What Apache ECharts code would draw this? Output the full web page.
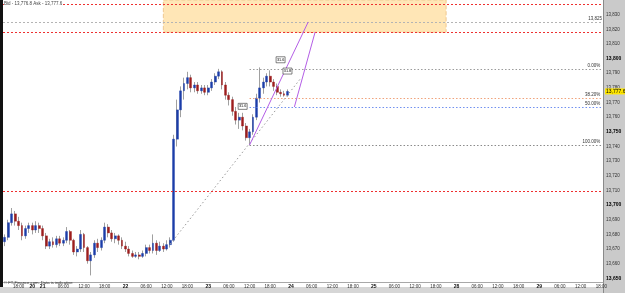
<!DOCTYPE html>
<html><head><meta charset="utf-8">
<script src="https://cdn.jsdelivr.net/npm/echarts@6/dist/echarts.min.js"></script>
<style>html,body{margin:0;padding:0;background:#fff}#c{width:625px;height:293px}</style>
</head><body><div id="c"></div>
<script>
// trading sessions: [day, first hour, last hour] (hourly slots)
const sessions = [[18,14,21],[20,21,23],[21,0,23],[22,0,23],[23,0,23],[24,0,23],[25,0,23],[28,0,23],[29,0,18]];

// hourly OHLC (candles for the first 83 slots)
const opens  = [13675,13678,13688,13694,13689,13686,13679,13684,13686,13683,13686,13684,13679,13672,13675,13673,13677,13674,13676,13682,13676,13668,13670,13680,13671,13662,13666,13674,13671,13676,13685,13681,13677,13679,13676,13672,13670,13667,13665,13666,13665,13667,13671,13669,13674,13669,13672,13670,13673,13676,13745,13765,13778,13783,13787,13780,13782,13778,13780,13777,13780,13784,13788,13791,13782,13775,13772,13764,13758,13760,13754,13746,13750,13760,13773,13780,13784,13788,13784,13781,13777,13776,13775];
const closes = [13678,13688,13694,13689,13686,13679,13684,13686,13683,13686,13684,13679,13672,13675,13673,13677,13674,13676,13682,13676,13668,13670,13680,13671,13662,13666,13674,13671,13676,13685,13681,13677,13679,13676,13672,13670,13667,13665,13666,13665,13667,13671,13669,13674,13669,13672,13670,13673,13676,13745,13765,13778,13783,13787,13780,13782,13778,13780,13777,13780,13784,13788,13791,13782,13775,13772,13764,13758,13760,13754,13746,13750,13760,13773,13780,13784,13788,13784,13781,13777,13776,13775,13777.6];
const lows   = [13672,13676,13686,13686,13683,13676,13677,13681,13680,13681,13681,13676,13670,13670,13671,13671,13672,13672,13674,13673,13666,13665,13668,13668,13660,13652,13664,13668,13669,13674,13678,13675,13674,13673,13670,13668,13665,13664,13664,13663,13664,13665,13667,13667,13666,13668,13668,13669,13671,13675,13740,13760,13772,13779,13777,13777,13776,13776,13775,13775,13778,13782,13786,13779,13772,13768,13761,13755,13752,13751,13744,13741,13748,13758,13770,13776,13781,13781,13778,13775,13774,13774,13774];
const highs  = [13680,13690,13698,13696,13692,13688,13686,13688,13688,13689,13688,13686,13681,13677,13678,13679,13679,13678,13685,13683,13677,13672,13683,13681,13672,13668,13676,13677,13678,13688,13687,13683,13681,13680,13678,13675,13672,13669,13668,13668,13669,13673,13673,13680,13676,13675,13674,13676,13678,13748,13772,13781,13787,13791,13789,13784,13784,13782,13782,13782,13786,13790,13793,13792,13784,13777,13774,13767,13763,13763,13756,13752,13762,13776,13794,13787,13790,13792,13786,13783,13779,13778,13779];

// horizontal levels
const redLevels = [13837.4, 13818, 13709.5];
const targetLevel = 13825;
const fibLabels = ['0.00%','38.20%','50.00%','100.00%'];
const fibValues = [13793, 13773.1, 13767, 13741];
const fibColors = ['#9a9a9a','#f0a27a','#6f8ff0','#8a8a8a'];
const fibStart = 71;
const lastPrice = 13777.6;
// zone, trend lines, notes (category index, value)
const zone = [[46, 13840],[128, 13818]];
const trendLine = [[48, 13673.4],[86, 13787]];
const purpleLines = [[[71, 13741],[88, 13825]], [[84, 13767],[90, 13818]]];
const notes = [[80, 13799.2, '31.6'], [82, 13791.5, '31.8'], [69, 13767.4, '31.6']];
const yTicks = {min: 13640, max: 13840, step: 10};

const categories = [];
const sessionStart = new Set();
sessions.forEach(([d, s, e], k) => {
  for (let h = s; h <= e; h++) {
    if (h === s && k > 0) sessionStart.add(categories.length);
    categories.push(d + ' ' + h);
  }
});
const lastIdx = categories.length - 1;
const fmt = v => v.toLocaleString('en-US');

const wicks = opens.map((o, i) => [o, closes[i], lows[i], highs[i]]);
const bodies = opens.map((o, i) => [o, closes[i], Math.min(o, closes[i]), Math.max(o, closes[i])]);

const markLines = [];
redLevels.forEach(v => markLines.push({yAxis: v, lineStyle: {color: '#ee3030', type: [2, 2], width: 1}}));
markLines.push({yAxis: targetLevel, lineStyle: {color: '#b4b4b4', type: [2, 2], width: 1},
  label: {show: true, position: 'insideEndTop', formatter: fmt(targetLevel), fontSize: 4.5, color: '#333', distance: 1}});
fibValues.forEach((v, k) => markLines.push([
  {coord: [fibStart, v], lineStyle: {color: fibColors[k], type: [1.5, 2], width: 1},
   label: {show: true, position: 'insideEndTop', formatter: fibLabels[k], fontSize: 4.5, color: '#333', distance: 1}},
  {coord: [lastIdx, v]}
]));
markLines.push([{coord: trendLine[0], lineStyle: {color: '#9a9a9a', type: [1.5, 2.5], width: 1}}, {coord: trendLine[1]}]);
purpleLines.forEach(p => markLines.push([{coord: p[0], lineStyle: {color: '#b45ee6', type: 'solid', width: 1}}, {coord: p[1]}]));
markLines.push({yAxis: lastPrice, lineStyle: {color: 'rgba(0,0,0,0)', width: 0},
  label: {show: true, position: 'end', formatter: fmt(lastPrice), fontSize: 5, color: '#000', opacity: 1,
          backgroundColor: '#ffe600', padding: [1, 1, 0, 1], distance: 2}});

const chart = echarts.init(document.getElementById('c'), null, {renderer: 'canvas'});
chart.setOption({
  animation: false,
  backgroundColor: '#fff',
  textStyle: {fontFamily: 'Liberation Sans, Arial, sans-serif'},
  grid: {left: 3, top: -1, width: 600, height: 299, containLabel: false},
  xAxis: {
    type: 'category', data: categories, boundaryGap: true, position: 'bottom', offset: -11,
    axisLine: {show: true, lineStyle: {color: '#a8a8a8', width: 1}},
    axisTick: {show: false},
    splitLine: {show: false},
    axisLabel: {
      interval: 0, fontSize: 4.5, color: '#333', margin: 2, hideOverlap: false,
      formatter: (val, idx) => {
        const [d, h] = val.split(' ').map(Number);
        if (sessionStart.has(idx)) return '{b|' + d + '}';
        if (h % 6 === 0 && h !== 0) return (h < 10 ? '0' : '') + h + ':00';
        return '';
      },
      rich: {b: {fontWeight: 'bold', fontSize: 5, color: '#111'}}
    }
  },
  yAxis: {
    type: 'value', position: 'right', min: yTicks.min, max: yTicks.max, interval: yTicks.step,
    axisLine: {show: true, lineStyle: {color: '#8a8a8a', width: 1}},
    axisTick: {show: false}, splitLine: {show: false},
    axisLabel: {
      fontSize: 4.5, color: '#333', margin: 3,
      formatter: v => (v < 13650 || v > 13830) ? '' : (v % 50 === 0 ? '{b|' + fmt(v) + '}' : fmt(v)),
      rich: {b: {fontWeight: 'bold', fontSize: 5, color: '#000'}}
    }
  },
  graphic: [
    {type: 'rect', z: -10, shape: {x: 603, y: 0, width: 22, height: 293}, style: {fill: '#cacaca'}},
    {type: 'rect', z: -10, shape: {x: 0, y: 287, width: 603, height: 6}, style: {fill: '#d6d6d6'}},
    {type: 'rect', z: 100, shape: {x: 0, y: 0, width: 3, height: 287}, style: {fill: '#111'}},
    {type: 'text', z: 100, left: 4, top: 1, style: {text: 'Bid - 13,776.8 Ask - 13,777.6', fontSize: 4.5, fill: '#444', backgroundColor: '#fff', fontFamily: 'Liberation Sans, Arial'}},
    {type: 'text', z: 100, left: 4, top: 281, style: {text: '© FT-Finance.com. Data is indicative', fontSize: 4.2, fill: '#333', fontFamily: 'Liberation Sans, Arial'}}
  ],
  series: [
    {
      type: 'candlestick', data: wicks, barWidth: 1, silent: true, z: 2,
      itemStyle: {color: '#a0a0a0', color0: '#a0a0a0', borderColor: '#a0a0a0', borderColor0: '#a0a0a0', borderWidth: 1}
    },
    {
      type: 'candlestick', data: bodies, barWidth: 2.4, clip: false, z: 3,
      itemStyle: {color: '#1b3da8', color0: '#9c1d1d', borderColor: '#1b3da8', borderColor0: '#9c1d1d', borderWidth: 0.4},
      markArea: {
        silent: true,
        data: [[{coord: zone[0], itemStyle: {color: '#ffe6b6', borderColor: '#f0c890', borderWidth: 1, borderType: 'dashed'}}, {coord: zone[1]}]]
      },
      markLine: {silent: true, symbol: ['none', 'none'], label: {show: false}, data: markLines},
      markPoint: {
        silent: true,
        data: notes.map(n => ({coord: [n[0], n[1]], symbol: 'rect', symbolSize: [9, 6],
          itemStyle: {color: '#fff', borderColor: '#333', borderWidth: 0.6},
          label: {show: true, formatter: n[2], fontSize: 3.8, color: '#000', position: 'inside'}}))
      }
    }
  ]
});
</script></body></html>
